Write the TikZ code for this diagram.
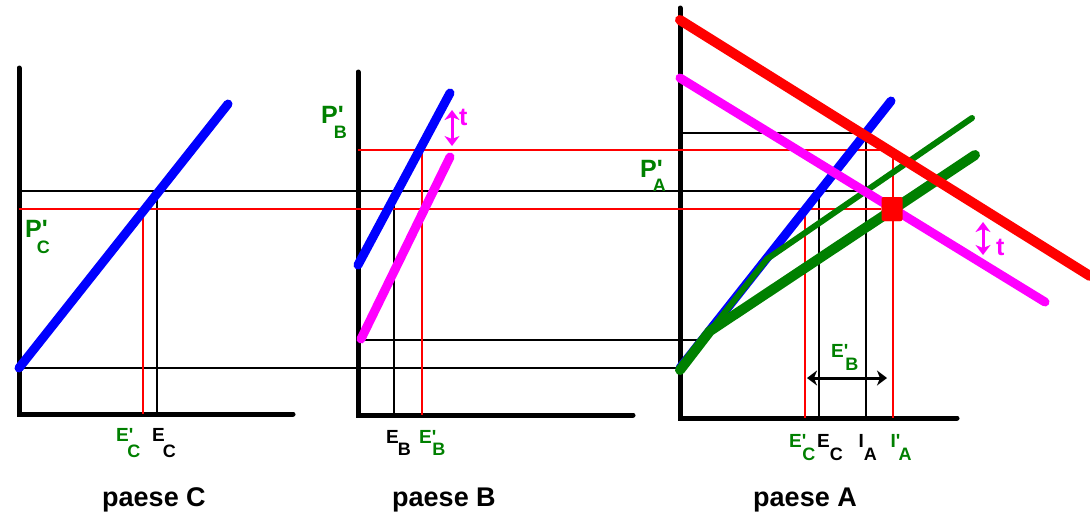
\documentclass[tikz,border=0pt]{standalone}
\usepackage{fontspec}
\setmainfont{Liberation Sans}
\newfontfamily\lsans{Liberation Sans}
\usetikzlibrary{arrows.meta}
\definecolor{gr}{RGB}{0,128,0}
\definecolor{mg}{RGB}{255,0,255}
\newcommand{\subl}[3]{\hspace{#1pt}\raisebox{-#2pt}{\fontsize{18}{18}\selectfont #3}}
\tikzset{
  axisln/.style={line width=5pt, line cap=round},
  guide/.style={line width=2pt},
  curve/.style={line width=9pt, line cap=round},
  thickgr/.style={gr, line width=10pt, line cap=round, line join=round},
  thingr/.style={gr, line width=6pt, line cap=round, line join=round},
  dbl/.style={line width=3pt, {Stealth[length=10pt,width=15pt,inset=3pt]}-{Stealth[length=10pt,width=15pt,inset=3pt]}},
  lab/.style={inner sep=0pt, anchor=base west},
  big/.style={lab, font=\lsans\bfseries\fontsize{25}{25}\selectfont},
  small/.style={lab, font=\lsans\bfseries\fontsize{19}{19}\selectfont},
  title/.style={inner sep=0pt, anchor=base, font=\lsans\bfseries\fontsize{27}{27}\selectfont},
  sqbox/.style={fill=red, minimum width=21pt, minimum height=24pt, rounded corners=2pt, inner sep=0pt},
}
\begin{document}
\begin{tikzpicture}[x=1pt,y=-1pt]
\useasboundingbox (0,0) rectangle (1090,515);
% ---------- coordinates ----------
% panel C
\coordinate (Ctop) at (19,68); \coordinate (Co) at (19,414); \coordinate (Cx) at (293,414);
\coordinate (Cb1) at (19,368); \coordinate (Cb2) at (228,104);
\coordinate (C191) at (19,191); \coordinate (C209) at (19,209);
\coordinate (ECt) at (157,191); \coordinate (ECb) at (157,414);
\coordinate (EpCt) at (143,209); \coordinate (EpCb) at (143,414);
% panel B
\coordinate (Btop) at (358,72); \coordinate (Bo) at (358,415); \coordinate (Bx) at (633,415);
\coordinate (Bb1) at (358,265); \coordinate (Bb2) at (450,93);
\coordinate (Bm1) at (361,339); \coordinate (Bm2) at (450,157);
\coordinate (B150) at (358,150); \coordinate (B340) at (358,340);
\coordinate (EBt) at (394,191); \coordinate (EBb) at (394,415);
\coordinate (EpBt) at (422,150); \coordinate (EpBb) at (422,415);
\coordinate (tB1) at (452,110); \coordinate (tB2) at (452,146);
% panel A
\coordinate (Atop) at (680,8); \coordinate (Ao) at (680,418); \coordinate (Ax) at (957,418);
\coordinate (A368) at (680,368); \coordinate (A133) at (680,133);
\coordinate (Ab1) at (680,368); \coordinate (Ab2) at (891,101);
\coordinate (Ar1) at (680,20); \coordinate (Ar2) at (1090,276);
\coordinate (Am1) at (680,78); \coordinate (Am2) at (1045,302);
\coordinate (Gk) at (710,331); \coordinate (G0) at (680,370);
\coordinate (Gt1) at (975,155);
\coordinate (Gs) at (767,259); \coordinate (Gt2) at (972,118);
\coordinate (G340) at (703,340); \coordinate (G191) at (864,191);
\coordinate (IAt) at (866,133); \coordinate (IAb) at (866,418);
\coordinate (EACt) at (819,191); \coordinate (EACb) at (819,418);
\coordinate (EpACt) at (805,209); \coordinate (EpACb) at (805,418);
\coordinate (IpAt) at (893,150); \coordinate (IpAb) at (893,418);
\coordinate (arL) at (807,378); \coordinate (arR) at (887,378);
\coordinate (tA1) at (983,222); \coordinate (tA2) at (983,255);
% ---------- axes ----------
\draw[axisln] (Ctop) -- (Co) -- (Cx);
\draw[axisln] (Btop) -- (Bo) -- (Bx);
\draw[axisln] (Atop) -- (Ao) -- (Ax);
% ---------- guide lines ----------
\draw[guide] (C191) -- (G191);
\draw[guide] (Cb1) -- (A368);
\draw[guide] (B340) -- (G340);
\draw[guide] (A133) -- (IAt) -- (IAb);
\draw[guide] (ECt) -- (ECb);
\draw[guide] (EBt) -- (EBb);
\draw[guide] (EACt) -- (EACb);
\node[sqbox] (sq) at (892,209) {};
\draw[guide, red] (C209) -- (sq.west);
\draw[guide, red] (B150) -- (IpAt) -- (IpAb);
\draw[guide, red] (EpCt) -- (EpCb);
\draw[guide, red] (EpBt) -- (EpBb);
\draw[guide, red] (EpACt) -- (EpACb);
% ---------- curves ----------
\draw[curve, blue] (Cb1) -- (Cb2);
\draw[curve, blue] (Bb1) -- (Bb2);
\draw[curve, mg] (Bm1) -- (Bm2);
\draw[curve, blue] (Ab1) -- (Ab2);
\draw[thickgr] (G0) -- (Gk) -- (Gt1);
\draw[thingr] (Gk) -- (Gs) -- (Gt2);
\draw[curve, mg] (Am1) -- (Am2);
\draw[curve, red, line width=10pt] (Ar1) -- (Ar2);
\node[sqbox] (sq2) at (sq) {};
% ---------- arrows ----------
\draw[dbl, mg] (tB1) -- (tB2);
\draw[dbl, mg] (tA1) -- (tA2);
\draw[dbl, black] (arL) -- (arR);
% ---------- labels ----------
\node[big, text=gr] (lPC) at (25,237) {P'\subl{-11}{16}{C}};
\node[big, text=gr] (lPB) at (321,123) {P'\subl{-10}{15}{B}};
\node[big, text=gr] (lPA) at (640,177) {P'\subl{-10}{14}{A}};
\node[big, text=mg] (ltB) at (459,125) {t};
\node[big, text=mg] (ltA) at (996,255) {t};
\node[small, text=gr] (lEpC) at (116,441) {E'\subl{-6}{16}{C}};
\node[small] (lEC) at (152,441) {E\subl{-2}{16}{C}};
\node[small] (lEB) at (386,443) {E\subl{-1}{12}{B}};
\node[small, text=gr] (lEpB) at (419,443) {E'\subl{-4}{12}{B}};
\node[small, text=gr] (lEpAC) at (789,447) {E'\subl{-4}{13}{C}};
\node[small] (lEAC) at (817,447) {E\subl{0}{13}{C}};
\node[small] (lIA) at (858.5,447) {I\subl{0}{13}{A}};
\node[small, text=gr] (lIpA) at (890.5,447) {I'\subl{-2}{13}{A}};
\node[small, text=gr] (lEpBA) at (831,357) {E'\subl{-3}{13}{B}};
\node[title] (tC) at (154,506) {paese C};
\node[title] (tB) at (444,506) {paese B};
\node[title] (tA) at (805,506) {paese A};
\end{tikzpicture}
\end{document}
